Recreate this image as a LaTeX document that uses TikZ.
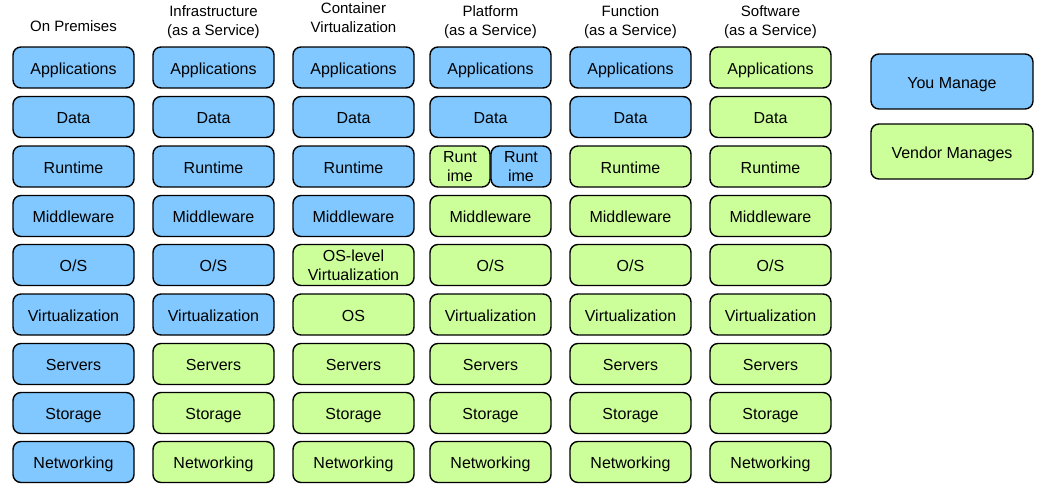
\documentclass[tikz,border=0pt]{standalone}
\usepackage{fontspec}
\setmainfont{Liberation Sans}
\usetikzlibrary{positioning}
\definecolor{youblue}{RGB}{128,200,255}
\definecolor{vendorgreen}{RGB}{204,255,153}

\begin{document}
\begin{tikzpicture}[x=1pt, y=-1pt,
  layerbox/.style={draw, line width=1.4pt, rounded corners=8pt, minimum width=121pt, minimum height=41pt, inner sep=0pt, text height=13pt, text depth=0pt, align=center, font=\fontsize{16}{19.5}\selectfont},
  you/.style={layerbox, fill=youblue},
  vendor/.style={layerbox, fill=vendorgreen},
  twoline/.style={text height={}, text depth=-3pt},
  halfbox/.style={twoline, minimum width=60pt},
  colhead/.style={align=center, font=\fontsize{15}{19}\selectfont}]
\useasboundingbox (0,0) rectangle (1041,490);
% Column headings
\node[colhead] (prem) at (73.5,26) {On Premises};
\node[colhead] (iaas) at (213.5,22) {Infrastructure\\(as a Service)};
\node[colhead] (cont) at (353.5,17.5) {Container\\Virtualization};
\node[colhead] (paas) at (490.5,22) {Platform\\(as a Service)};
\node[colhead] (faas) at (630.5,22) {Function\\(as a Service)};
\node[colhead] (saas) at (770.5,22) {Software\\(as a Service)};
% On Premises
\node[you] (prem-app) at (73.5,67.5) {Applications};
\node[you] (prem-data) at (73.5,117) {Data};
\node[you] (prem-run) at (73.5,166.5) {Runtime};
\node[you] (prem-mid) at (73.5,216) {Middleware};
\node[you] (prem-os) at (73.5,265) {O/S};
\node[you] (prem-virt) at (73.5,314.5) {Virtualization};
\node[you] (prem-srv) at (73.5,364) {Servers};
\node[you] (prem-sto) at (73.5,413) {Storage};
\node[you] (prem-net) at (73.5,462) {Networking};
% Infrastructure
\node[you] (iaas-app) at (213.5,67.5) {Applications};
\node[you] (iaas-data) at (213.5,117) {Data};
\node[you] (iaas-run) at (213.5,166.5) {Runtime};
\node[you] (iaas-mid) at (213.5,216) {Middleware};
\node[you] (iaas-os) at (213.5,265) {O/S};
\node[you] (iaas-virt) at (213.5,314.5) {Virtualization};
\node[vendor] (iaas-srv) at (213.5,364) {Servers};
\node[vendor] (iaas-sto) at (213.5,413) {Storage};
\node[vendor] (iaas-net) at (213.5,462) {Networking};
% Container Virtualization
\node[you] (cont-app) at (353.5,67.5) {Applications};
\node[you] (cont-data) at (353.5,117) {Data};
\node[you] (cont-run) at (353.5,166.5) {Runtime};
\node[you] (cont-mid) at (353.5,216) {Middleware};
\node[vendor, twoline] (cont-oslv) at (353.5,265) {OS-level\\Virtualization};
\node[vendor] (cont-os) at (353.5,314.5) {OS};
\node[vendor] (cont-srv) at (353.5,364) {Servers};
\node[vendor] (cont-sto) at (353.5,413) {Storage};
\node[vendor] (cont-net) at (353.5,462) {Networking};
% Platform
\node[you] (paas-app) at (490.5,67.5) {Applications};
\node[you] (paas-data) at (490.5,117) {Data};
\node[vendor, halfbox] (paas-run1) at (460,166.5) {Runt\\ime};
\node[you, halfbox] (paas-run2) at (521,166.5) {Runt\\ime};
\node[vendor] (paas-mid) at (490.5,216) {Middleware};
\node[vendor] (paas-os) at (490.5,265) {O/S};
\node[vendor] (paas-virt) at (490.5,314.5) {Virtualization};
\node[vendor] (paas-srv) at (490.5,364) {Servers};
\node[vendor] (paas-sto) at (490.5,413) {Storage};
\node[vendor] (paas-net) at (490.5,462) {Networking};
% Function
\node[you] (faas-app) at (630.5,67.5) {Applications};
\node[you] (faas-data) at (630.5,117) {Data};
\node[vendor] (faas-run) at (630.5,166.5) {Runtime};
\node[vendor] (faas-mid) at (630.5,216) {Middleware};
\node[vendor] (faas-os) at (630.5,265) {O/S};
\node[vendor] (faas-virt) at (630.5,314.5) {Virtualization};
\node[vendor] (faas-srv) at (630.5,364) {Servers};
\node[vendor] (faas-sto) at (630.5,413) {Storage};
\node[vendor] (faas-net) at (630.5,462) {Networking};
% Software
\node[vendor] (saas-app) at (770.5,67.5) {Applications};
\node[vendor] (saas-data) at (770.5,117) {Data};
\node[vendor] (saas-run) at (770.5,166.5) {Runtime};
\node[vendor] (saas-mid) at (770.5,216) {Middleware};
\node[vendor] (saas-os) at (770.5,265) {O/S};
\node[vendor] (saas-virt) at (770.5,314.5) {Virtualization};
\node[vendor] (saas-srv) at (770.5,364) {Servers};
\node[vendor] (saas-sto) at (770.5,413) {Storage};
\node[vendor] (saas-net) at (770.5,462) {Networking};
% Legend
\node[you, minimum width=162pt, minimum height=55pt] (key-you) at (952,81.5) {You Manage};
\node[vendor, minimum width=162pt, minimum height=55pt] (key-vendor) at (952,151.5) {Vendor Manages};
\end{tikzpicture}
\end{document}
